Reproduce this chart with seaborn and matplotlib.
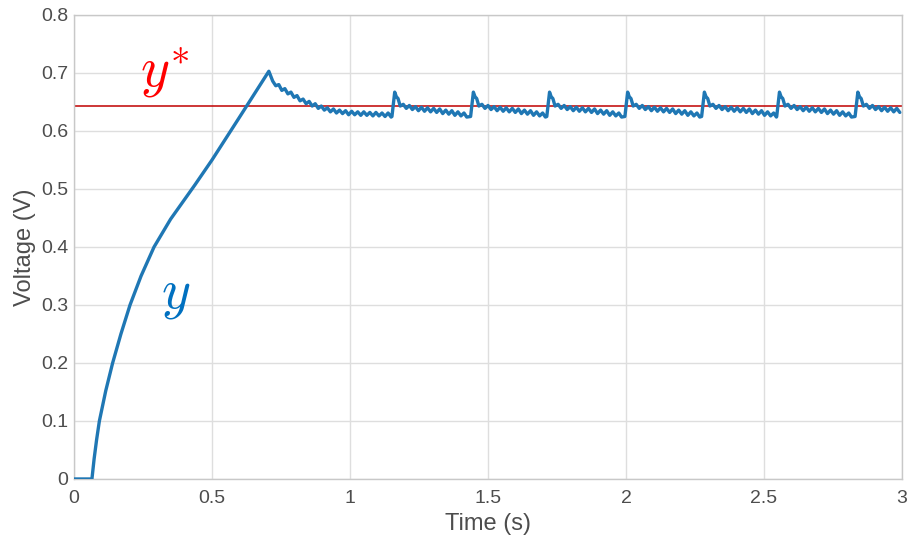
import numpy as np
import pandas as pd
import matplotlib
matplotlib.use("Agg")
import matplotlib.pyplot as plt
import seaborn as sns

# Start-up transient: output voltage from switch-on to first overshoot
rise_t = [0.000, 0.030, 0.065, 0.073, 0.082, 0.092, 0.115, 0.140, 0.170, 0.203,
          0.243, 0.290, 0.350, 0.438, 0.500, 0.600, 0.706]
rise_v = [0.000, 0.000, 0.000, 0.035, 0.068, 0.100, 0.152, 0.200, 0.250, 0.300,
          0.350, 0.400, 0.448, 0.507, 0.550, 0.624, 0.703]

# Settling after the overshoot (switching ripple included)
settle_t = [0.720, 0.731, 0.742, 0.753, 0.764, 0.775, 0.786, 0.797, 0.808, 0.819,
            0.830, 0.841, 0.852, 0.863, 0.874, 0.885, 0.896, 0.907, 0.918, 0.929,
            0.940, 0.951, 0.962, 0.973, 0.984, 0.995, 1.006, 1.017, 1.028, 1.039,
            1.050, 1.061, 1.072, 1.083, 1.094, 1.105, 1.116, 1.127, 1.138, 1.149]
settle_v = [0.686, 0.678, 0.680, 0.670, 0.673, 0.664, 0.667, 0.658, 0.661, 0.652,
            0.655, 0.647, 0.651, 0.643, 0.647, 0.639, 0.643, 0.636, 0.640, 0.633,
            0.638, 0.631, 0.636, 0.630, 0.635, 0.628, 0.634, 0.628, 0.633, 0.627,
            0.633, 0.627, 0.632, 0.626, 0.632, 0.626, 0.631, 0.625, 0.631, 0.624]

# One control-update period: kick at the update instant, then ripple decay
pulse_dt = [0.000, 0.010, 0.016, 0.022, 0.030, 0.041, 0.052, 0.063, 0.074, 0.085,
            0.096, 0.107, 0.118, 0.129, 0.140, 0.151, 0.162, 0.173, 0.184, 0.195,
            0.206, 0.217, 0.228, 0.239, 0.250, 0.261, 0.271]
pulse_v = [0.625, 0.667, 0.659, 0.656, 0.643, 0.646, 0.639, 0.644, 0.637, 0.642,
           0.635, 0.641, 0.634, 0.640, 0.633, 0.639, 0.632, 0.638, 0.630, 0.636,
           0.629, 0.635, 0.627, 0.633, 0.626, 0.631, 0.624]
pulse_start = [1.152, 1.437, 1.713, 1.996, 2.274, 2.546, 2.830]

y_ref = 0.643
t_end = 3.0

x_ticks = [0, 0.5, 1, 1.5, 2, 2.5, 3]
x_tick_labels = ["0", "0.5", "1", "1.5", "2", "2.5", "3"]
y_ticks = [0, 0.1, 0.2, 0.3, 0.4, 0.5, 0.6, 0.7, 0.8]
y_tick_labels = ["0", "0.1", "0.2", "0.3", "0.4", "0.5", "0.6", "0.7", "0.8"]

# Assemble the full response trace
t_all = list(rise_t) + list(settle_t)
v_all = list(rise_v) + list(settle_v)
for k, t0 in enumerate(pulse_start):
    t_next = pulse_start[k + 1] if k + 1 < len(pulse_start) else np.inf
    for dt, v in zip(pulse_dt, pulse_v):
        t = t0 + dt
        if t < t_next and t <= t_end:
            t_all.append(t)
            v_all.append(v)
df = pd.DataFrame({"Time (s)": t_all, "Voltage (V)": v_all})

sns.set_theme(style="whitegrid")
plt.rcParams["font.family"] = ["Liberation Sans", "DejaVu Sans"]
plt.rcParams["mathtext.fontset"] = "cm"

fig = plt.figure(figsize=(9.09, 5.43), dpi=100)
ax = fig.add_axes([0.0814, 0.1179, 0.9109, 0.8545])

ax.axhline(y_ref, color="#c00000", lw=1.1, zorder=2)
sns.lineplot(data=df, x="Time (s)", y="Voltage (V)", ax=ax, color="#1f77b4",
             lw=2.4, sort=False, estimator=None, zorder=3)

ax.set_xlim(0, 3)
ax.set_ylim(0, 0.8)
ax.set_xticks(x_ticks)
ax.set_xticklabels(x_tick_labels)
ax.set_yticks(y_ticks)
ax.set_yticklabels(y_tick_labels)
ax.grid(True, color="#dedede", lw=1.0)
for s in ax.spines.values():
    s.set_color("#c8c8c8")
    s.set_linewidth(1.0)
ax.tick_params(axis="both", colors="#4d4d4d", labelsize=14, direction="in",
               length=4, width=0.8)
ax.tick_params(axis="both", color="#bdbdbd")
ax.tick_params(axis="x", pad=8)
ax.tick_params(axis="y", pad=4)
ax.set_xlabel("Time (s)", fontsize=17, color="#4d4d4d", labelpad=4)
ax.set_ylabel("Voltage (V)", fontsize=17, color="#4d4d4d", labelpad=4)

ax.text(0.33, 0.70, r"$y^{*}$", color="#ff0000", fontsize=40,
        ha="center", va="center")
ax.text(0.367, 0.318, r"$y$", color="#0070C0", fontsize=40,
        ha="center", va="center")

fig.savefig("out.png", dpi=100)
